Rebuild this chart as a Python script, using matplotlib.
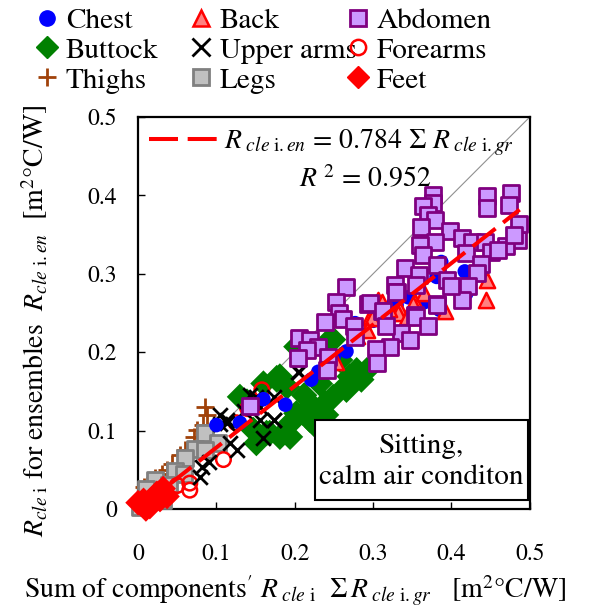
import numpy as np
import matplotlib
matplotlib.use('Agg')
import matplotlib.pyplot as plt
from matplotlib.lines import Line2D
from matplotlib.patches import Rectangle
from matplotlib import font_manager

SERIF = ['STIXGeneral', 'Liberation Serif', 'DejaVu Serif']
plt.rcParams['font.family'] = SERIF
plt.rcParams['mathtext.fontset'] = 'stix'

# body part data: (sum of components' R_cle, ensemble R_cle)
abdomen_x = [0.376, 0.376, 0.364, 0.445, 0.445, 0.476, 0.474, 0.370, 0.379, 0.361,
             0.398, 0.413, 0.379, 0.360, 0.364, 0.426, 0.443, 0.451, 0.419, 0.438,
             0.432, 0.485, 0.486, 0.470, 0.381, 0.394, 0.421, 0.413, 0.341, 0.358,
             0.328, 0.330, 0.294, 0.311, 0.381, 0.353, 0.400, 0.266, 0.253, 0.256,
             0.238, 0.262, 0.275, 0.277, 0.206, 0.219, 0.230, 0.215, 0.204, 0.243,
             0.296, 0.313, 0.329, 0.355, 0.336, 0.317, 0.347, 0.321, 0.304, 0.305,
             0.370, 0.381, 0.355, 0.241, 0.143, 0.460, 0.480]
abdomen_y = [0.400, 0.390, 0.386, 0.399, 0.384, 0.403, 0.388, 0.375, 0.369, 0.360,
             0.354, 0.345, 0.341, 0.337, 0.324, 0.341, 0.341, 0.328, 0.326, 0.313,
             0.301, 0.343, 0.364, 0.335, 0.311, 0.292, 0.284, 0.267, 0.307, 0.298,
             0.286, 0.277, 0.262, 0.252, 0.262, 0.247, 0.284, 0.283, 0.264, 0.250,
             0.239, 0.242, 0.233, 0.219, 0.218, 0.216, 0.207, 0.203, 0.192, 0.194,
             0.263, 0.252, 0.277, 0.245, 0.225, 0.233, 0.216, 0.207, 0.204, 0.186,
             0.233, 0.260, 0.286, 0.177, 0.131, 0.330, 0.350]

chest_x = [0.387, 0.381, 0.417, 0.326, 0.366, 0.419, 0.385, 0.277, 0.266, 0.330,
           0.221, 0.188, 0.100, 0.300, 0.345, 0.250, 0.160, 0.130, 0.230]
chest_y = [0.315, 0.296, 0.303, 0.262, 0.264, 0.275, 0.254, 0.237, 0.201, 0.260,
           0.165, 0.133, 0.107, 0.240, 0.270, 0.195, 0.140, 0.110, 0.175]

back_x = [0.445, 0.444, 0.296, 0.353, 0.334, 0.392, 0.306, 0.298, 0.292, 0.332,
          0.311, 0.351, 0.253, 0.343, 0.280, 0.320, 0.365]
back_y = [0.292, 0.267, 0.245, 0.264, 0.254, 0.252, 0.267, 0.243, 0.228, 0.250,
          0.264, 0.262, 0.188, 0.245, 0.220, 0.255, 0.275]

buttock_x = [0.202, 0.249, 0.177, 0.279, 0.264, 0.249, 0.224, 0.239, 0.211, 0.219,
             0.270, 0.232, 0.190, 0.139, 0.181, 0.194, 0.202, 0.164, 0.181, 0.147,
             0.194, 0.292, 0.245, 0.130, 0.228, 0.266, 0.168, 0.151, 0.177, 0.160,
             0.258, 0.285, 0.212, 0.240]
buttock_y = [0.207, 0.216, 0.167, 0.177, 0.156, 0.143, 0.130, 0.135, 0.122, 0.114,
             0.169, 0.160, 0.156, 0.137, 0.169, 0.109, 0.122, 0.097, 0.092, 0.101,
             0.092, 0.177, 0.216, 0.143, 0.105, 0.152, 0.097, 0.084, 0.165, 0.160,
             0.190, 0.165, 0.145, 0.120]

upper_arms_x = [0.206, 0.173, 0.173, 0.204, 0.143, 0.156, 0.173, 0.160, 0.113, 0.126,
                0.105, 0.156, 0.151, 0.105, 0.113, 0.081, 0.079, 0.117, 0.135, 0.090]
upper_arms_y = [0.175, 0.143, 0.114, 0.175, 0.145, 0.130, 0.114, 0.090, 0.114, 0.075,
                0.109, 0.114, 0.143, 0.120, 0.110, 0.054, 0.041, 0.084, 0.125, 0.060]

forearms_x = [0.158, 0.109, 0.066, 0.066, 0.125, 0.140, 0.050]
forearms_y = [0.152, 0.063, 0.024, 0.033, 0.110, 0.128, 0.030]

thighs_x = [0.085, 0.088, 0.075, 0.071, 0.054, 0.043, 0.037, 0.022, 0.007, 0.083,
            0.060, 0.030, 0.015]
thighs_y = [0.130, 0.120, 0.101, 0.092, 0.069, 0.058, 0.050, 0.039, 0.028, 0.107,
            0.075, 0.045, 0.030]

legs_x = [0.085, 0.102, 0.073, 0.060, 0.047, 0.022, 0.015, 0.003, 0.032, 0.085,
          0.058, 0.010, 0.040]
legs_y = [0.097, 0.084, 0.077, 0.065, 0.048, 0.037, 0.016, 0.003, 0.011, 0.075,
          0.045, 0.025, 0.030]

feet_x = [0.007, 0.032, 0.015, 0.000, 0.037, 0.024, 0.010, 0.028]
feet_y = [0.011, 0.026, 0.003, 0.008, 0.016, 0.020, 0.000, 0.012]

slope = 0.784
r_squared = 0.952
fit_x = [0.0, 0.487]


def serif(size):
    return font_manager.FontProperties(family=SERIF, size=size)


fig = plt.figure(figsize=(5.9, 6.13), dpi=100)
ax = fig.add_axes([0.234, 0.1697, 0.664, 0.6395])

ax.plot([0, 0.5], [0, 0.5], color='#909090', lw=0.8, zorder=1)

# marker styles per body part
series = [
    ('Chest', chest_x, chest_y, dict(marker='o', s=110, c='#0000ff', edgecolors='none')),
    ('Buttock', buttock_x, buttock_y, dict(marker='D', s=180, c='#008000', edgecolors='none')),
    ('Thighs', thighs_x, thighs_y, dict(marker='+', s=150, c='#a0420a', linewidths=2)),
    ('Back', back_x, back_y, dict(marker='^', s=120, facecolors='#ff8080', edgecolors='#ff0000', linewidths=1.8)),
    ('Upper arms', upper_arms_x, upper_arms_y, dict(marker='x', s=110, c='black', linewidths=2)),
    ('Legs', legs_x, legs_y, dict(marker='s', s=140, facecolors='#c0c0c0', edgecolors='#808080', linewidths=2)),
    ('Abdomen', abdomen_x, abdomen_y, dict(marker='s', s=140, facecolors='#cc99ff', edgecolors='#800080', linewidths=2)),
    ('Forearms', forearms_x, forearms_y, dict(marker='o', s=110, facecolors='none', edgecolors='#ff0000', linewidths=1.8)),
    ('Feet', feet_x, feet_y, dict(marker='D', s=170, c='#ff0000', edgecolors='none')),
]
draw_order = ['Thighs', 'Legs', 'Buttock', 'Forearms', 'Upper arms', 'Chest', 'Back', 'Abdomen', 'Feet']
by_name = {s[0]: s for s in series}
for z, name in enumerate(draw_order):
    _, xs, ys, kw = by_name[name]
    ax.scatter(xs, ys, zorder=3 + z, clip_on=False, **kw)

fit_line, = ax.plot(fit_x, [slope * v for v in fit_x], color='#ff0000', lw=2.9,
                    dashes=(7.2, 2.4), zorder=20)

ax.set_xlim(0, 0.5)
ax.set_ylim(0, 0.5)
ticks = [0, 0.1, 0.2, 0.3, 0.4, 0.5]
tick_labels = ['0', '0.1', '0.2', '0.3', '0.4', '0.5']
ax.set_xticks(ticks)
ax.set_xticklabels(tick_labels, fontproperties=serif(17))
ax.set_yticks(ticks)
ax.set_yticklabels(tick_labels, fontproperties=serif(17))
ax.tick_params(direction='in', length=5, width=1)
ax.tick_params(axis='x', pad=25)
ax.tick_params(axis='y', pad=15)
for sp in ax.spines.values():
    sp.set_linewidth(1.6)

ax.set_xlabel(r"Sum of components$'$ $R_{\ cle\ \mathrm{i}}$  $\Sigma\, R_{\ cle\ \mathrm{i}.gr}$   [m$^2$°C/W]",
              fontproperties=serif(20))
ax.xaxis.set_label_coords(0.40, -0.165)
ax.set_ylabel(r"$R_{cle\ \mathrm{i}}$ for ensembles  $R_{cle\ \mathrm{i}.en}$  [m$^2$°C/W]",
              fontproperties=serif(20))
ax.yaxis.set_label_coords(-0.225, 0.48)

# fit equation as a legend entry
ax.legend([fit_line], [r"$R_{\ cle\ \mathrm{i}.en}$ = 0.784 $\Sigma\ R_{\ cle\ \mathrm{i}.gr}$"],
          loc='upper left', bbox_to_anchor=(-0.015, 1.015), frameon=False, prop=serif(20),
          handlelength=2.7, handletextpad=0.0, borderaxespad=0.2)
ax.text(0.58, 0.84, r"$R^{\ 2}$ = 0.952", transform=ax.transAxes, fontproperties=serif(20),
        ha='center', va='center')

# condition box
ax.add_patch(Rectangle((0.452, 0.023), 0.543, 0.204, transform=ax.transAxes,
                       facecolor='white', edgecolor='black', lw=1.5, zorder=25))
ax.text(0.723, 0.12, 'Sitting,\ncalm air conditon', transform=ax.transAxes,
        fontproperties=serif(21), ha='center', va='center', linespacing=1.3, zorder=26)

# legend of body parts on top, one legend per column
handles = []
labels = []
for name, _, _, kw in series:
    m = kw['marker']
    fc = kw.get('facecolors', kw.get('c'))
    ec = kw.get('edgecolors', kw.get('c'))
    if ec == 'none':
        ec = fc
    if m in ('+', 'x'):
        fc = ec = kw['c']
    h = Line2D([], [], ls='none', marker=m, markersize=13 if m in ('+', 'x') else 11,
               markerfacecolor=fc, markeredgecolor=ec,
               markeredgewidth=kw.get('linewidths', 1.0))
    handles.append(h)
    labels.append(name)
col_x = [0.057, 0.318, 0.584]
for i, x0 in enumerate(col_x):
    fig.legend(handles[3 * i:3 * i + 3], labels[3 * i:3 * i + 3], loc='upper left',
               bbox_to_anchor=(x0, 0.988), frameon=False, prop=serif(21),
               handletextpad=0.2, labelspacing=0.12, handlelength=0.9,
               borderpad=0, borderaxespad=0)

fig.savefig('out.png', dpi=100)
